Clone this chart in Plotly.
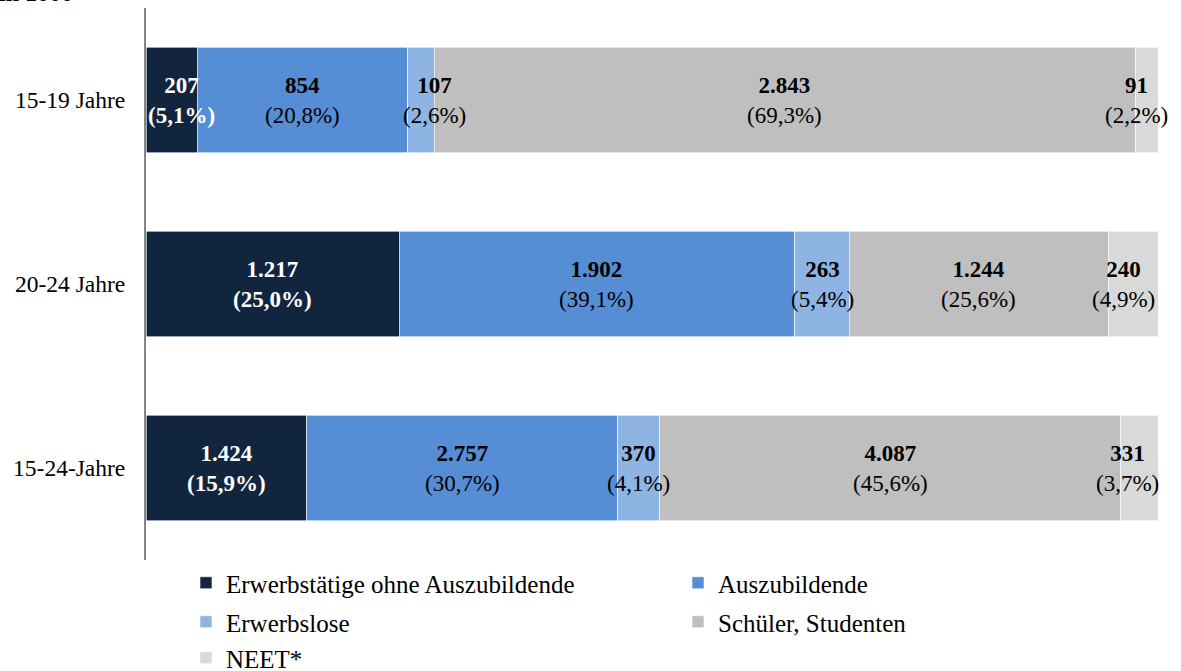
import plotly.graph_objects as go
import numpy as np

categories = ["15-19 Jahre", "20-24 Jahre", "15-24-Jahre"]
series_names = ["Erwerbstätige ohne Auszubildende", "Auszubildende", "Erwerbslose",
                "Schüler, Studenten", "NEET*"]
erwerbstaetige = [207, 1217, 1424]
auszubildende = [854, 1902, 2757]
erwerbslose = [107, 263, 370]
schueler = [2843, 1244, 4087]
neet = [91, 240, 331]
value_labels = [["207", "1.217", "1.424"], ["854", "1.902", "2.757"], ["107", "263", "370"],
                ["2.843", "1.244", "4.087"], ["91", "240", "331"]]
pct_labels = [["5,1%", "25,0%", "15,9%"], ["20,8%", "39,1%", "30,7%"], ["2,6%", "5,4%", "4,1%"],
              ["69,3%", "25,6%", "45,6%"], ["2,2%", "4,9%", "3,7%"]]
colors = ["#12253F", "#558ED5", "#8DB4E2", "#BFBFBF", "#D9D9D9"]

series = [erwerbstaetige, auszubildende, erwerbslose, schueler, neet]
totals = np.sum(np.array(series), axis=0)

# legend rows (two columns, three rows)
legend_ids = ["legend", "legend", "legend2", "legend2", "legend3"]

fig = go.Figure()
for name, vals, col, lg in zip(series_names, series, colors, legend_ids):
    fig.add_trace(go.Bar(
        y=categories, x=vals, name=name, orientation="h",
        marker=dict(color=col, line=dict(color="white", width=0.6)),
        hoverinfo="skip", legend=lg,
    ))

font = "Liberation Serif, Times New Roman, serif"
cum = np.zeros(3)
xshift_map = {0: [10, 0, 0], 2: [14, 0, 0], 4: [-10, -10, -12]}
for i, vals in enumerate(series):
    pct = np.array(vals) / totals * 100
    centers = cum + pct / 2
    cum = cum + pct
    for j, cat in enumerate(categories):
        if i == 0:
            txt = f"<b>{value_labels[i][j]}<br>({pct_labels[i][j]})</b>"
            fcol = "white"
        else:
            txt = f"<b>{value_labels[i][j]}</b><br>({pct_labels[i][j]})"
            fcol = "black"
        fig.add_annotation(
            x=centers[j], y=cat, xref="x", yref="y", text=txt, showarrow=False,
            font=dict(family=font, size=23, color=fcol),
            xshift=xshift_map.get(i, [0, 0, 0])[j], align="center",
        )

fig.add_annotation(
    x=-146 / 1012, y=1.0, xref="paper", yref="paper", xanchor="left", yanchor="bottom",
    text="<b>in 1000</b>", showarrow=False, xshift=-3,
    font=dict(family=font, size=24, color="black"),
)

leg_common = dict(
    orientation="h", xref="container", yref="container", xanchor="left", yanchor="middle",
    x=186 / 1181, entrywidth=447, entrywidthmode="pixels",
    font=dict(family=font, size=25, color="black"), traceorder="normal",
    itemclick=False, bgcolor="rgba(0,0,0,0)",
)

fig.update_layout(
    barmode="stack", barnorm="percent", bargap=0.424,
    width=1181, height=671,
    margin=dict(l=146, r=23, t=8, b=111, autoexpand=False),
    plot_bgcolor="white", paper_bgcolor="white",
    font=dict(family=font, size=18, color="black"),
    showlegend=True,
    legend=dict(leg_common, y=1 - 583 / 671),
    legend2=dict(leg_common, y=1 - 622 / 671),
    legend3=dict(leg_common, y=1 - 658 / 671),
)
fig.update_xaxes(range=[0, 100], visible=False, fixedrange=True)
fig.update_yaxes(
    autorange="reversed", showline=True, linecolor="#868686", linewidth=2,
    ticks="", ticklabelstandoff=14, showgrid=False, automargin=False,
    tickfont=dict(family=font, size=23.5, color="black"),
)

fig.write_html(
    "out.html",
    config={"displayModeBar": False, "staticPlot": True},
    post_script="document.body.style.margin='0';document.body.style.overflow='hidden';",
)
